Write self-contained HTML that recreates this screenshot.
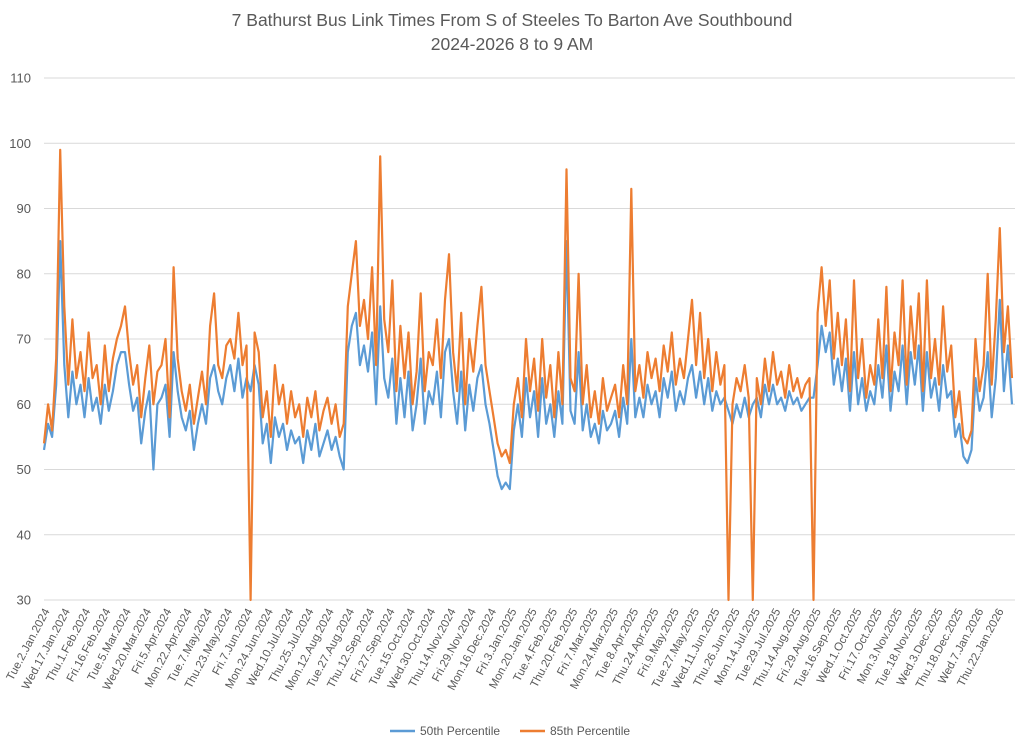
<!DOCTYPE html>
<html><head><meta charset="utf-8"><style>
html,body{margin:0;padding:0;background:#fff;}
svg{display:block;font-family:"Liberation Sans",sans-serif;}
</style></head><body>
<svg id="chart" width="1024" height="744" viewBox="0 0 1024 744">
<text x="512" y="26" text-anchor="middle" font-size="17.5" fill="#595959">7 Bathurst Bus Link Times From S of Steeles To Barton Ave Southbound</text>
<text x="512" y="50" text-anchor="middle" font-size="17.5" fill="#595959">2024-2026 8 to 9 AM</text>
<g id="grid"></g><g id="yt"></g><g id="xt"></g><g id="series"></g>
<g>
<line x1="390" y1="731" x2="415" y2="731" stroke="#5B9BD5" stroke-width="2.5"/>
<text x="420" y="735" font-size="12" fill="#595959">50th Percentile</text>
<line x1="520" y1="731" x2="545" y2="731" stroke="#ED7D31" stroke-width="2.5"/>
<text x="550" y="735" font-size="12" fill="#595959">85th Percentile</text>
</g>
</svg>
<script>
const yTicks=[30,40,50,60,70,80,90,100,110];
const dateLabels=["Tue.2.Jan.2024","Wed.17.Jan.2024","Thu.1.Feb.2024","Fri.16.Feb.2024","Tue.5.Mar.2024","Wed.20.Mar.2024","Fri.5.Apr.2024","Mon.22.Apr.2024","Tue.7.May.2024","Thu.23.May.2024","Fri.7.Jun.2024","Mon.24.Jun.2024","Wed.10.Jul.2024","Thu.25.Jul.2024","Mon.12.Aug.2024","Tue.27.Aug.2024","Thu.12.Sep.2024","Fri.27.Sep.2024","Tue.15.Oct.2024","Wed.30.Oct.2024","Thu.14.Nov.2024","Fri.29.Nov.2024","Mon.16.Dec.2024","Fri.3.Jan.2025","Mon.20.Jan.2025","Tue.4.Feb.2025","Thu.20.Feb.2025","Fri.7.Mar.2025","Mon.24.Mar.2025","Tue.8.Apr.2025","Thu.24.Apr.2025","Fri.9.May.2025","Tue.27.May.2025","Wed.11.Jun.2025","Thu.26.Jun.2025","Mon.14.Jul.2025","Tue.29.Jul.2025","Thu.14.Aug.2025","Fri.29.Aug.2025","Tue.16.Sep.2025","Wed.1.Oct.2025","Fri.17.Oct.2025","Mon.3.Nov.2025","Tue.18.Nov.2025","Wed.3.Dec.2025","Thu.18.Dec.2025","Wed.7.Jan.2026","Thu.22.Jan.2026"];
const p85=[54,60,56,67,99,75,63,73,64,68,62,71,64,66,60,69,62,67,70,72,75,68,63,66,58,64,69,60,65,66,70,58,81,67,62,59,63,57,61,65,60,72,77,66,64,69,70,67,74,66,69,30,71,68,58,62,55,66,60,63,57,62,58,60,55,61,58,62,56,59,61,57,60,55,57,75,80,85,72,76,70,81,66,98,73,68,79,62,72,64,71,60,65,77,62,68,66,73,64,76,83,68,62,74,60,70,65,72,78,66,62,58,54,52,53,51,60,64,58,70,62,67,59,70,61,66,58,68,60,96,64,62,80,60,66,58,62,57,64,59,61,63,58,66,60,93,62,66,61,68,64,67,62,69,65,71,63,67,64,70,76,66,74,64,70,62,68,63,66,30,60,64,62,66,61,30,64,60,67,62,68,63,65,61,66,62,64,61,63,64,30,74,81,72,79,67,74,66,73,62,79,64,70,61,66,63,73,64,78,62,71,66,79,63,75,67,77,62,79,64,70,63,75,65,69,58,62,55,54,56,70,62,66,80,63,73,87,68,75,64];
const p50=[53,57,55,63,85,66,58,65,60,63,58,64,59,61,57,63,59,62,66,68,68,63,59,61,54,59,62,50,60,61,63,55,68,62,58,56,59,53,57,60,57,64,66,62,60,64,66,62,67,61,64,62,66,63,54,57,51,58,55,57,53,56,54,55,51,56,53,57,52,54,56,53,55,52,50,68,72,74,66,69,65,71,60,75,64,61,67,57,64,58,65,56,60,67,57,62,60,65,58,68,70,62,57,65,56,63,59,64,66,60,57,53,49,47,48,47,56,60,55,64,58,62,55,64,57,60,55,62,57,85,59,57,68,56,60,55,57,54,59,56,57,59,55,61,57,70,58,61,58,63,60,62,58,64,61,65,59,62,60,64,66,61,65,60,64,59,62,60,61,59,57,60,58,61,58,60,61,58,63,60,63,60,61,59,62,60,61,59,60,61,61,66,72,68,71,63,67,62,67,59,68,60,64,59,62,60,66,61,69,59,65,62,69,60,68,63,69,59,68,61,64,59,66,61,62,55,57,52,51,53,64,59,61,68,58,64,76,62,69,60];
const NS="http://www.w3.org/2000/svg";
const X0=44,X1=1012,Y30=600,Y110=78;
function yS(v){return Y30-(v-30)*(Y30-Y110)/80;}
function xS(i,n){return X0+i*(X1-X0)/(n-1);}
function mk(t,a,p){const e=document.createElementNS(NS,t);for(const k in a)e.setAttribute(k,a[k]);p.appendChild(e);return e;}
const grid=document.getElementById('grid'),yt=document.getElementById('yt'),xt=document.getElementById('xt'),ser=document.getElementById('series');
yTicks.forEach(v=>{
  const l=mk('line',{x1:44,x2:1015,y1:yS(v),y2:yS(v),stroke:'#d9d9d9','stroke-width':1},grid);
  
  
  const t=mk('text',{x:31,y:yS(v)+4.5,'text-anchor':'end','font-size':13,fill:'#595959'},yt);
  
  
  t.textContent=v;
});
dateLabels.forEach((d,i)=>{
  const x=47+i*(1001-47)/(dateLabels.length-1);
  const t=mk('text',{x:0,y:0,'text-anchor':'end','font-size':11.5,fill:'#595959',transform:'translate('+(x+3)+',611) rotate(-62)'},xt);
  
  
  t.textContent=d;
});
function drawLine(arr,col,name){
  const pts=arr.map((v,i)=>xS(i,arr.length).toFixed(1)+','+yS(v).toFixed(1)).join(' ');
  const p=mk('polyline',{points:pts,fill:'none',stroke:col,'stroke-width':2.2,'stroke-linejoin':'round'},ser);
  
  
}
drawLine(p50,'#5B9BD5','series-50th-percentile');
drawLine(p85,'#ED7D31','series-85th-percentile');
</script>
</body></html>
